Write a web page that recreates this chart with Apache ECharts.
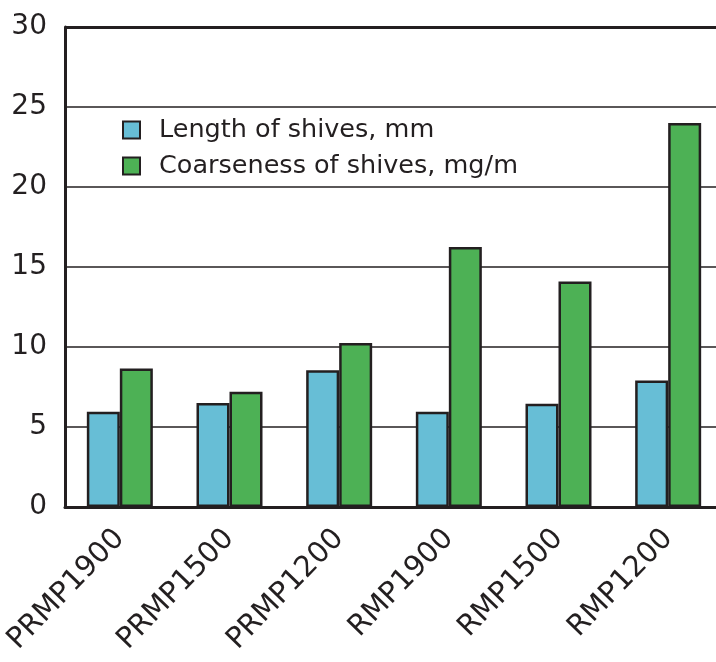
<!DOCTYPE html>
<html><head><meta charset="utf-8">
<script src="https://cdn.jsdelivr.net/npm/echarts@6/dist/echarts.min.js"></script>
<style>html,body{margin:0;padding:0;background:#fff}#c{width:716px;height:662px}</style>
</head><body><div id="c"></div>
<script>
var categories = ['PRMP1900','PRMP1500','PRMP1200','RMP1900','RMP1500','RMP1200'];
var lengthVals = [5.95, 6.5, 8.55, 5.95, 6.45, 7.9];
var coarseVals = [8.65, 7.2, 10.25, 16.25, 14.1, 24.0];
var seriesNames = ['Length of shives, mm','Coarseness of shives, mg/m'];
var yTicks = [0, 5, 10, 15, 20, 25, 30];

var chart = echarts.init(document.getElementById('c'), null, {renderer:'canvas'});
var font = 'DejaVu Sans, Verdana, sans-serif';
var ink = '#231f20';
chart.setOption({
  animation:false,
  grid:{left:65, width:658, top:27, bottom:155, containLabel:false, outerBoundsMode:'none'},
  legend:{
    left:117, top:112, orient:'vertical', itemWidth:17, itemHeight:17, itemGap:10,
    icon:'rect',
    itemStyle:{borderColor:ink, borderWidth:2},
    textStyle:{fontFamily:font, fontSize:25.5, color:ink, padding:[0,0,0,14]},
    data:seriesNames
  },
  xAxis:{
    type:'category', data:categories,
    axisLine:{lineStyle:{color:ink, width:3}},
    axisTick:{show:false},
    axisLabel:{rotate:46, fontFamily:font, fontSize:29, color:ink, margin:27, interval:0}
  },
  yAxis:{
    type:'value', min:yTicks[0], max:yTicks[yTicks.length-1], interval:5,
    axisLine:{show:true, lineStyle:{color:ink, width:3}},
    axisTick:{show:false},
    axisLabel:{fontFamily:font, fontSize:28, color:ink, margin:18},
    splitLine:{lineStyle:{color:ink, width:1.5}}
  },
  series:[
    {name:seriesNames[0], type:'bar', data:lengthVals, barWidth:33, barGap:'0%',
     itemStyle:{color:'#67bed6', borderColor:ink, borderWidth:2.5}},
    {name:seriesNames[1], type:'bar', data:coarseVals, barWidth:33, barGap:'0%',
     itemStyle:{color:'#4db155', borderColor:ink, borderWidth:2.5},
     markLine:{silent:true, symbol:'none', label:{show:false},
       lineStyle:{color:ink, width:3, type:'solid'}, data:[{yAxis:30}]}}
  ]
});
</script></body></html>
